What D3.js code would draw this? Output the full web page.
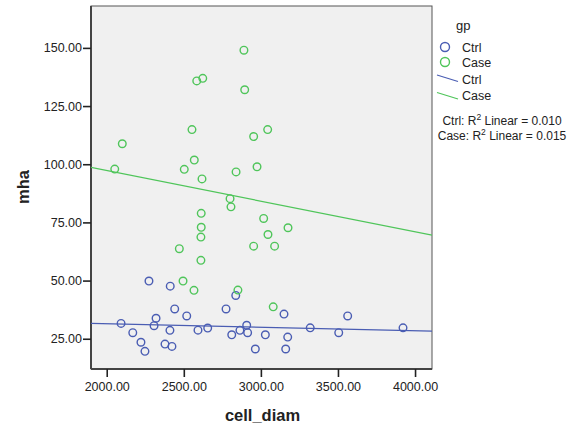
<!DOCTYPE html>
<html>
<head>
<meta charset="utf-8">
<script src="https://cdn.jsdelivr.net/npm/d3@7"></script>
<style>
  body { margin: 0; background: #fff; }
  text { font-family: Arial, "Liberation Sans", sans-serif; fill: #222; }
</style>
</head>
<body>
<div id="chart"></div>
<script>
// scatter of mha against cell_diam, split by group, with linear fit lines

const groups = ["Ctrl", "Case"];
const groupColors = ["#4a5db3", "#4fc55a"];

const ctrlDiam = [2274, 2412, 2441, 2519, 2774, 2837, 2093, 2169, 2222, 2248,
  2320, 2307, 2410, 2378, 2423, 2592, 2655, 2811, 2864, 2908,
  2914, 2964, 3029, 3150, 3563, 3320, 3505, 3922, 3174, 3161];
const ctrlMha = [49.8, 47.6, 37.8, 34.8, 37.8, 43.6, 31.6, 27.6, 23.5, 19.6,
  33.8, 30.6, 28.6, 22.7, 21.7, 28.7, 29.6, 26.7, 28.6, 30.8,
  27.6, 20.6, 26.7, 35.6, 34.8, 29.7, 27.6, 29.7, 25.7, 20.6];

const caseDiam = [2890, 2584, 2623, 2895, 2553, 2953, 3044, 2101, 2052, 2503,
  2568, 2618, 2839, 2975, 2800, 2806, 2613, 2613, 2611, 2611,
  3018, 3046, 2953, 3089, 3176, 2471, 2495, 2566, 2851, 3080];
const caseMha = [149.0, 135.8, 136.9, 132.0, 114.9, 111.9, 114.9, 108.8, 97.9, 97.8,
  101.8, 93.7, 96.7, 98.9, 85.2, 81.7, 78.9, 72.9, 68.7, 58.7,
  76.7, 69.8, 64.8, 64.8, 72.7, 63.7, 49.8, 45.8, 45.9, 38.7];

// linear fits: [intercept, slope]
const fitCtrl = [34.4, -0.00149];
const fitCase = [123.6, -0.01316];
const r2Labels = ["0.010", "0.015"];

const xTicks = [2000, 2500, 3000, 3500, 4000];
const yTicks = [25, 50, 75, 100, 125, 150];

const width = 579, height = 430;
const plot = { left: 91, top: 6, right: 432, bottom: 369 };

const svg = d3.select("#chart").append("svg")
  .attr("width", width)
  .attr("height", height);

const x = d3.scaleLinear().domain([1898, 4110]).range([plot.left, plot.right]);
const y = d3.scaleLinear().domain([12, 168]).range([plot.bottom, plot.top]);

svg.append("rect")
  .attr("x", plot.left).attr("y", plot.top)
  .attr("width", plot.right - plot.left)
  .attr("height", plot.bottom - plot.top)
  .attr("fill", "#f0f0f0")
  .attr("stroke", "#555")
  .attr("stroke-width", 1);

// axes
const fmt = d3.format(".2f");
const yAxis = svg.append("g")
  .attr("transform", `translate(${plot.left},0)`)
  .call(d3.axisLeft(y).tickValues(yTicks).tickFormat(fmt).tickSize(8).tickPadding(1));
const xAxis = svg.append("g")
  .attr("transform", `translate(0,${plot.bottom})`)
  .call(d3.axisBottom(x).tickValues(xTicks).tickFormat(fmt).tickSize(8).tickPadding(5));

[yAxis, xAxis].forEach(g => {
  g.select(".domain").attr("stroke", "#444").attr("stroke-width", 2);
  g.selectAll(".tick line").attr("stroke", "#222").attr("stroke-width", 1.6);
  g.selectAll(".tick text").attr("font-size", 12.5).attr("fill", "#222")
    .attr("font-family", "Arial, 'Liberation Sans', sans-serif");
});
xAxis.select(".domain").attr("d", `M${plot.left},0H${plot.right}`);
yAxis.select(".domain").attr("d", `M0,${plot.bottom}V${plot.top}`);

// axis titles
svg.append("text")
  .attr("x", (plot.left + plot.right) / 2 + 1)
  .attr("y", 421)
  .attr("text-anchor", "middle")
  .attr("font-size", 16.5)
  .attr("font-weight", "bold")
  .text("cell_diam");

svg.append("text")
  .attr("transform", "translate(29,187) rotate(-90)")
  .attr("text-anchor", "middle")
  .attr("font-size", 16.5)
  .attr("font-weight", "bold")
  .text("mha");

// fit lines, clipped to the plot
svg.append("clipPath").attr("id", "clip")
  .append("rect")
  .attr("x", plot.left).attr("y", plot.top)
  .attr("width", plot.right - plot.left)
  .attr("height", plot.bottom - plot.top);

const fits = [fitCtrl, fitCase];
const xd = x.domain();
svg.append("g")
  .attr("clip-path", "url(#clip)")
  .selectAll("line")
  .data(fits)
  .join("line")
  .attr("x1", x(xd[0]))
  .attr("x2", x(xd[1]))
  .attr("y1", d => y(d[0] + d[1] * xd[0]))
  .attr("y2", d => y(d[0] + d[1] * xd[1]))
  .attr("stroke", (d, i) => groupColors[i])
  .attr("stroke-width", 1.2);

// points
const series = [
  ctrlDiam.map((v, i) => ({ x: v, y: ctrlMha[i], g: 0 })),
  caseDiam.map((v, i) => ({ x: v, y: caseMha[i], g: 1 }))
];
svg.append("g")
  .selectAll("circle")
  .data(series.flat())
  .join("circle")
  .attr("cx", d => x(d.x))
  .attr("cy", d => y(d.y))
  .attr("r", 3.8)
  .attr("fill", "none")
  .attr("stroke", d => groupColors[d.g])
  .attr("stroke-width", 1.4);

// legend
const legend = svg.append("g").attr("font-size", 12.5);
legend.append("text").attr("x", 456).attr("y", 30).attr("font-size", 13).text("gp");

legend.selectAll("circle")
  .data(groups)
  .join("circle")
  .attr("cx", 445)
  .attr("cy", (d, i) => 47 + i * 15)
  .attr("r", 4.5)
  .attr("fill", "none")
  .attr("stroke", (d, i) => groupColors[i])
  .attr("stroke-width", 1.4);

legend.selectAll("line")
  .data(groups)
  .join("line")
  .attr("x1", 437).attr("x2", 458)
  .attr("y1", (d, i) => 75 + i * 17.5)
  .attr("y2", (d, i) => 81.5 + i * 17.5)
  .attr("stroke", (d, i) => groupColors[i])
  .attr("stroke-width", 1.2);

legend.selectAll("text.pt")
  .data(groups.concat(groups))
  .join("text")
  .attr("class", "pt")
  .attr("x", 462)
  .attr("y", (d, i) => i < 2 ? 51.5 + i * 15 : 83.5 + (i - 2) * 16.5)
  .text(d => d);

const r2 = legend.selectAll("text.r2")
  .data(groups)
  .join("text")
  .attr("class", "r2")
  .attr("x", 502)
  .attr("y", (d, i) => 125 + i * 15)
  .attr("text-anchor", "middle")
  .attr("font-size", 12);
r2.append("tspan").text(d => `${d}: R`);
r2.append("tspan").attr("dy", -5).attr("font-size", 8.5).text("2");
r2.append("tspan").attr("dy", 5).text((d, i) => ` Linear = ${r2Labels[i]}`);
</script>
</body>
</html>
